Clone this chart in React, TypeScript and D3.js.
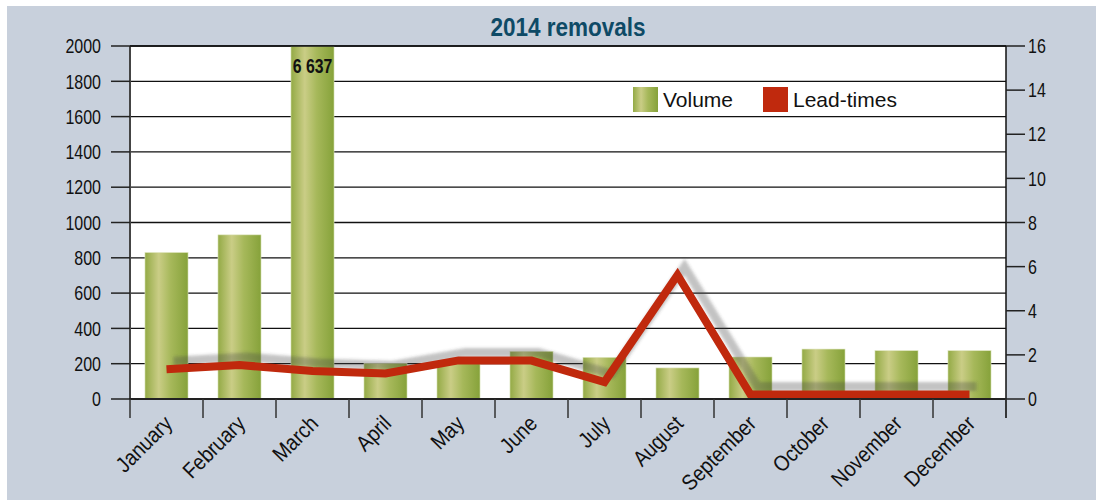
import React from "react";
import * as d3 from "d3";

const months = ["January","February","March","April","May","June","July","August","September","October","November","December"];
const volume = [830, 930, 6637, 202, 210, 270, 236, 176, 238, 283, 274, 274];
const leadTimes = [1.35, 1.54, 1.27, 1.16, 1.75, 1.74, 0.77, 5.62, 0.2, 0.2, 0.2, 0.2];
const leftTicks = [0,200,400,600,800,1000,1200,1400,1600,1800,2000];
const rightTicks = [0,2,4,6,8,10,12,14,16];
const title = "2014 removals";
const seriesNames = ["Volume", "Lead-times"];

const W = 1096, H = 500;
const L = 130, R = 1006, T = 46, B = 399;
const REG = "'Liberation Sans', Arial, sans-serif";

export default function App() {
  const x = d3.scaleBand<string>().domain(months).range([L, R]).paddingInner(0.41).paddingOuter(0.205);
  const yL = d3.scaleLinear().domain([0, 2000]).range([B, T]);
  const yR = d3.scaleLinear().domain([0, 16]).range([B, T]);
  const bw = x.bandwidth();
  const step = x.step();
  const cx = (m: string) => (x(m) as number) + bw / 2;
  const line = d3.line<number>().x((_, i) => cx(months[i])).y(d => yR(d));
  const path = line(leadTimes) || "";
  const bounds = d3.range(months.length + 1).map(i => L + i * step);

  return (
    <svg width={W} height={H} style={{ position: "absolute", left: 0, top: 0 }}>
      <defs>
        <linearGradient id="barG" x1="0" x2="1" y1="0" y2="0">
          <stop offset="0" stopColor="#93aa45" />
          <stop offset="0.32" stopColor="#cacd86" />
          <stop offset="0.6" stopColor="#a6b85a" />
          <stop offset="1" stopColor="#86a23a" />
        </linearGradient>
        <filter id="blur" x="-10%" y="-50%" width="120%" height="200%">
          <feGaussianBlur stdDeviation="1.6" />
        </filter>
        <clipPath id="plotClip">
          <rect x={L} y={T} width={R - L} height={B - T} />
        </clipPath>
      </defs>
      <rect x={0} y={0} width={W} height={H} fill="#ffffff" />
      <rect x={7} y={6} width={W - 7} height={H - 6} fill="#c8d0dc" />
      <rect x={L} y={T} width={R - L} height={B - T} fill="#ffffff" />

      {/* gridlines */}
      {leftTicks.map(t => (
        <line key={"g" + t} x1={L} x2={R} y1={yL(t)} y2={yL(t)} stroke="#111" strokeWidth={1.3} />
      ))}

      {/* bars */}
      <g clipPath="url(#plotClip)">
        {volume.map((v, i) => (
          <rect key={months[i]} x={x(months[i])} y={yL(Math.min(v, 2000))} width={bw}
            height={B - yL(Math.min(v, 2000))} fill="url(#barG)" stroke="#dfe6c0" strokeWidth={0.6} />
        ))}
      </g>

      {/* 6 637 label */}
      <text transform={`translate(${cx(months[2])},72.5) scale(0.79,1)`} textAnchor="middle" fontFamily={REG} fontWeight="bold" fontSize={20} fill="#111">
        {"6 637"}
      </text>

      {/* line shadow */}
      <path d={path} transform="translate(7,-8)" fill="none" stroke="rgba(70,70,70,0.32)" strokeWidth={9} strokeLinejoin="miter" filter="url(#blur)" />
      {/* line */}
      <path d={path} fill="none" stroke="#c0290d" strokeWidth={8} strokeLinejoin="miter" />

      {/* axes */}
      <line x1={L} x2={L} y1={T} y2={B} stroke="#444" strokeWidth={2} />
      <line x1={R} x2={R} y1={T} y2={B + 19} stroke="#111" strokeWidth={1.5} />
      <line x1={L - 1} x2={R} y1={B} y2={B} stroke="#222" strokeWidth={2} />
      <line x1={L} x2={R} y1={T} y2={T} stroke="#111" strokeWidth={1.5} />
      {leftTicks.map(t => (
        <g key={"l" + t}>
          <line x1={L - 19} x2={L} y1={yL(t)} y2={yL(t)} stroke="#222" strokeWidth={1.5} />
          <text transform={`translate(101,${yL(t)}) scale(0.8,1)`} dy="0.36em" textAnchor="end" fontFamily={REG} fontSize={20} fill="#111">{t}</text>
        </g>
      ))}
      {rightTicks.map(t => (
        <g key={"r" + t}>
          <line x1={R} x2={R + 19} y1={yR(t)} y2={yR(t)} stroke="#222" strokeWidth={1.5} />
          <text transform={`translate(1028,${yR(t)}) scale(0.8,1)`} dy="0.36em" textAnchor="start" fontFamily={REG} fontSize={20} fill="#111">{t}</text>
        </g>
      ))}
      {bounds.map((b, i) => (
        <line key={"b" + i} x1={b} x2={b} y1={B} y2={B + 19} stroke="#333" strokeWidth={1.5} />
      ))}
      {months.map(m => (
        <text key={"m" + m} transform={`translate(${cx(m) + 7},${425}) rotate(-45) scale(0.88,1)`} textAnchor="end"
          fontFamily={REG} fontSize={22} fill="#111">{m}</text>
      ))}

      {/* title */}
      <text transform="translate(568,36) scale(0.85,1)" textAnchor="middle" fontFamily={REG} fontWeight="bold" fontSize={26.5} fill="#0e4a66">{title}</text>

      {/* legend */}
      <rect x={633} y={87} width={25} height={25} fill="url(#barG)" />
      <text x={663} y={107} fontFamily={REG} fontSize={21} fill="#111">{seriesNames[0]}</text>
      <rect x={763} y={87} width={25} height={25} fill="#c0290d" />
      <text x={793} y={107} fontFamily={REG} fontSize={21} fill="#111">{seriesNames[1]}</text>
    </svg>
  );
}
